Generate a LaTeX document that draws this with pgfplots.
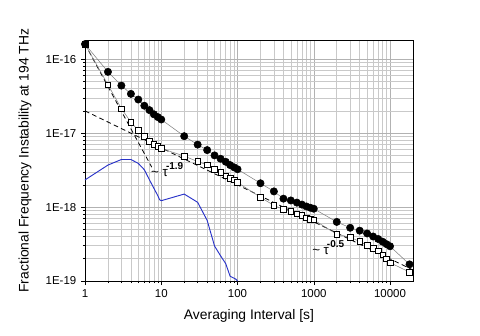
\documentclass[border=0pt]{standalone}
\usepackage{fontspec}
\setmainfont{Liberation Sans}
\usepackage{pgfplots}
\pgfplotsset{compat=1.18}
\definecolor{tracblue}{RGB}{40,50,200}

\begin{document}
\begin{tikzpicture}
\useasboundingbox (-63.75pt,-41.25pt) rectangle (296.25pt,210.75pt);
\begin{axis}[
 at={(0pt,0pt)},anchor=south west,
 scale only axis,width=246pt,height=180.5pt,
 xmode=log,ymode=log,
 xmin=1,xmax=20000,ymin=1e-19,ymax=1.8e-16,
 clip=false,
 axis line style={line width=0.7pt},
 grid=both,
 major grid style={gray!60,line width=0.4pt},
 minor grid style={gray!42,line width=0.4pt},
 tick align=outside,xtick pos=bottom,ytick pos=left,
 major tick length=3pt,minor tick length=1.6pt,
 tick style={black,line width=0.4pt},
 xtick={1,10,100,1000,10000},
 xticklabels={1,10,100,1000,10000},
 ytick={1e-19,1e-18,1e-17,1e-16},
 yticklabels={1E-19,1E-18,1E-17,1E-16},
 ticklabel style={font=\fontsize{8.6}{10}\selectfont},
 xlabel={Averaging Interval [s]},
 ylabel={Fractional Frequency Instability at 194 THz},
 label style={font=\fontsize{10.4}{12}\selectfont},
 xlabel style={at={(axis description cs:0.5,-0.145)},anchor=center},
 ylabel style={at={(axis description cs:-0.183,0.5)},anchor=center},
]
% fits
\addplot[black,line width=0.6pt,dash pattern=on 3.5pt off 2.5pt]
 coordinates {(1,2.0e-17) (20000,1.41e-19)};
\addplot[black,line width=0.6pt,dash pattern=on 3.5pt off 2.5pt]
 coordinates {(1,1.6e-16) (7.5,3.47e-18)};
% blue trace
\addplot[tracblue,line width=0.7pt] coordinates {
 (1,2.33e-18) (2,3.7e-18) (3,4.4e-18) (4,4.4e-18) (5,3.9e-18) (6,3.2e-18)
 (7,2.34e-18) (8,1.8e-18) (9,1.43e-18) (9.5,1.26e-18) (10,1.22e-18)
 (20,1.5e-18) (30,1.16e-18) (40,6.6e-19) (50,2.97e-19) (60,2.19e-19)
 (70,1.72e-19) (80,1.16e-19) (95,1.06e-19) (100,1.0e-19)};
% squares
\addplot[gray,line width=0.4pt,mark=square*,mark size=2.1pt,
 mark options={draw=black,fill=white,line width=0.4pt,solid}] coordinates {
 (1,1.6e-16) (2,4.52e-17) (3,2.15e-17) (4,1.41e-17) (5,1.09e-17) (6,9.0e-18)
 (7,7.8e-18) (8,7.1e-18) (9,6.6e-18) (10,6.2e-18)
 (20,4.9e-18) (30,4.13e-18) (40,3.72e-18) (50,3.25e-18) (60,2.95e-18)
 (70,2.64e-18) (80,2.46e-18) (90,2.34e-18) (100,2.15e-18)
 (200,1.36e-18) (300,1.05e-18) (400,9.3e-19) (500,8.7e-19) (600,8.1e-19)
 (700,7.7e-19) (800,7.2e-19) (900,6.9e-19) (1000,6.7e-19)
 (2000,4.3e-19) (3000,3.9e-19) (4000,3.43e-19) (5000,3.03e-19) (6000,2.79e-19)
 (7000,2.57e-19) (8000,2.27e-19) (9000,2.0e-19) (10000,1.77e-19)
 (18000,1.32e-19)};
% circles
\addplot[gray,line width=0.4pt,mark=*,mark size=2.75pt,
 mark options={draw=black,fill=black,solid}] coordinates {
 (1,1.6e-16) (2,6.75e-17) (3,4.4e-17) (4,3.4e-17) (5,2.85e-17) (6,2.35e-17)
 (7,2.05e-17) (8,1.8e-17) (9,1.65e-17) (10,1.53e-17)
 (20,9.1e-18) (30,7.0e-18) (40,5.9e-18) (50,5.0e-18) (60,4.5e-18)
 (70,4.1e-18) (80,3.7e-18) (90,3.45e-18) (100,3.25e-18)
 (200,2.1e-18) (300,1.63e-18) (400,1.3e-18) (500,1.23e-18) (600,1.15e-18)
 (700,1.08e-18) (800,1.02e-18) (900,9.8e-19) (1000,9.5e-19)
 (2000,6.3e-19) (3000,5.25e-19) (4000,4.8e-19) (5000,4.4e-19) (6000,4.0e-19)
 (7000,3.7e-19) (8000,3.4e-19) (9000,3.15e-19) (10000,2.95e-19)
 (18000,1.68e-19)};
% annotations
\node[font=\fontsize{10}{12}\selectfont] at (axis cs:9.5,2.92e-18) {\textasciitilde\ τ};
\node[font=\bfseries\fontsize{7.5}{9}\selectfont] at (axis cs:15,3.6e-18) {-1.9};
\node[font=\fontsize{10}{12}\selectfont] at (axis cs:1230,2.57e-19) {\textasciitilde\ τ};
\node[font=\bfseries\fontsize{7.5}{9}\selectfont] at (axis cs:1930,3.19e-19) {-0.5};
\end{axis}
\end{tikzpicture}
\end{document}
